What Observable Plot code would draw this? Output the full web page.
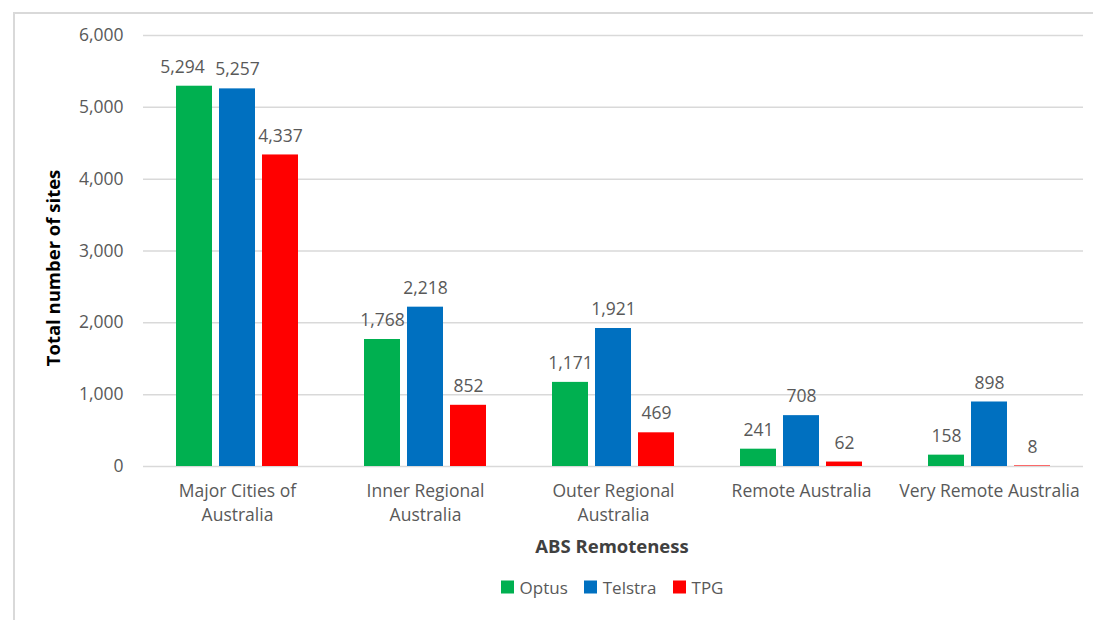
<!DOCTYPE html>
<html>
<head>
<meta charset="utf-8">
<script src="https://cdn.jsdelivr.net/npm/d3@7"></script>
<script src="https://cdn.jsdelivr.net/npm/@observablehq/plot@0.6"></script>
<style>
  html, body { margin: 0; padding: 0; background: #fff; }
  body { width: 1093px; height: 620px; overflow: hidden; position: relative; font-family: "Open Sans", "Noto Sans", sans-serif; }
  #frame { position: absolute; left: 13px; top: 12px; right: -10px; bottom: -10px; border-left: 2px solid #d9d9d9; border-top: 2px solid #d9d9d9; }
  #chart { position: absolute; left: 0; top: 0; }
  .xtitle { position: absolute; left: 612px; top: 545px; transform: translate(-50%, -50%); font-weight: bold; font-size: 18.5px; color: #404040; white-space: nowrap; }
  .ytitle { position: absolute; left: 52px; top: 268px; transform: translate(-50%, -50%) rotate(-90deg); font-weight: bold; font-size: 18.5px; color: #000; white-space: nowrap; }
  #legend { position: absolute; left: 0; width: 1224px; top: 587px; transform: translateY(-50%); display: flex; justify-content: center; gap: 16px; font-size: 17px; color: #595959; }
  #legend .item { display: flex; align-items: center; gap: 6px; }
  #legend .sw { width: 13px; height: 13px; display: inline-block; }
  #chart svg text { font-size: 17.5px; }
</style>
</head>
<body>
<div id="frame"></div>
<div id="chart"></div>
<div class="xtitle">ABS Remoteness</div>
<div class="ytitle">Total number of sites</div>
<div id="legend"></div>
<script>
const categories = ["Major Cities of Australia", "Inner Regional Australia", "Outer Regional Australia", "Remote Australia", "Very Remote Australia"];
const categoryLabels = ["Major Cities of\nAustralia", "Inner Regional\nAustralia", "Outer Regional\nAustralia", "Remote Australia", "Very Remote Australia"];
const companies = ["Optus", "Telstra", "TPG"];
const colors = ["#00B050", "#0070C0", "#FF0000"];
const optus = [5294, 1768, 1171, 241, 158];
const telstra = [5257, 2218, 1921, 708, 898];
const tpg = [4337, 852, 469, 62, 8];
const yTicks = [0, 1000, 2000, 3000, 4000, 5000, 6000];

const series = [optus, telstra, tpg];
const rows = [];
categories.forEach((c, i) => {
  companies.forEach((co, j) => rows.push({category: c, company: co, value: series[j][i]}));
});
const labelRows = categories.map((c, i) => ({category: c, label: categoryLabels[i]}));
const fmt = d3.format(",");
const shifted = d => d.category === categories[0] && d.company === companies[0];

const chart = Plot.plot({
  width: 1093,
  height: 565,
  marginTop: 35,
  marginBottom: 99,
  marginLeft: 142,
  marginRight: 10,
  style: {fontFamily: "'Open Sans', 'Noto Sans', sans-serif", fontSize: "17.5px", color: "#595959", background: "transparent"},
  fx: {domain: categories, padding: 0, axis: null},
  x: {domain: companies, paddingInner: 0.17, paddingOuter: 0.76, axis: null},
  y: {domain: [0, 6000], ticks: 6, tickFormat: d => fmt(d), tickSize: 0, tickPadding: 20, label: null},
  color: {domain: companies, range: colors},
  marks: [
    Plot.ruleY(yTicks, {stroke: "#d9d9d9", strokeWidth: 1.5}),
    Plot.barY(rows, {fx: "category", x: "company", y: "value", fill: "company"}),
    Plot.text(rows, {filter: d => !shifted(d), fx: "category", x: "company", y: "value", text: d => fmt(d.value), dy: -19, fill: "#595959", fontSize: 17.5}),
    Plot.text(rows, {filter: shifted, fx: "category", x: "company", y: "value", text: d => fmt(d.value), dy: -19, dx: -12, fill: "#595959", fontSize: 17.5}),
    Plot.text(labelRows, {fx: "category", frameAnchor: "bottom", text: "label", lineAnchor: "top", lineHeight: 1.35, dy: 14, fill: "#595959", fontSize: 17.5})
  ]
});
document.getElementById("chart").appendChild(chart);

const legend = document.getElementById("legend");
companies.forEach((c, i) => {
  const item = document.createElement("span");
  item.className = "item";
  const sw = document.createElement("span");
  sw.className = "sw";
  sw.style.background = colors[i];
  item.appendChild(sw);
  item.appendChild(document.createTextNode(c));
  legend.appendChild(item);
});
</script>
</body>
</html>
